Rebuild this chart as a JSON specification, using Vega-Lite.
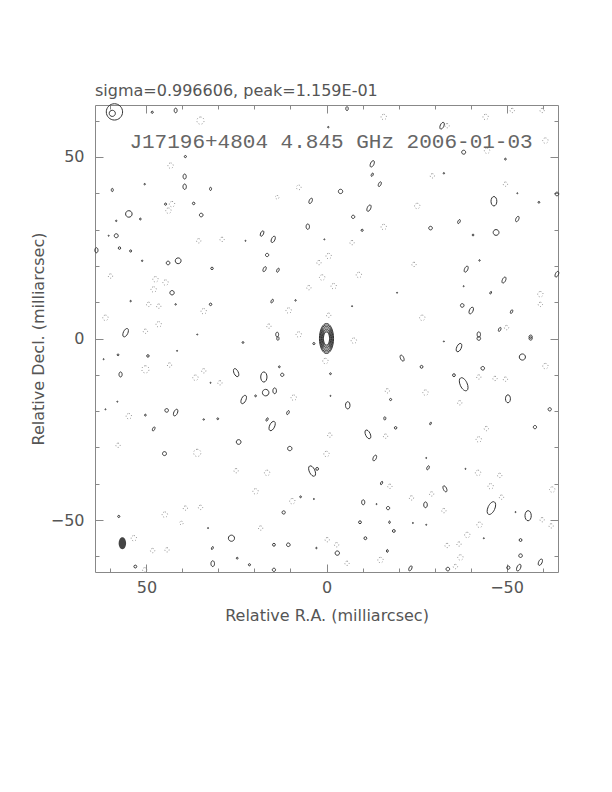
{
"$schema": "https://vega.github.io/schema/vega-lite/v6.json",
"width": 463, "height": 467,
"autosize": "none",
"padding": {"left": 95, "top": 105, "right": 54, "bottom": 220},
"background": "white",
"title": {"text": "sigma=0.996606, peak=1.159E-01", "anchor": "start", "frame": "group", "font": "DejaVu Sans", "fontSize": 16, "fontWeight": "normal", "color": "#555", "offset": 3},
"config": {
  "view": {"stroke": null},
  "axis": {"grid": false, "domainColor": "#888", "tickColor": "#888", "labelColor": "#555", "titleColor": "#555", "labelFont": "DejaVu Sans", "titleFont": "DejaVu Sans", "labelFontSize": 16, "titleFontSize": 16, "titleFontWeight": "normal", "labelOverlap": false, "labelFlush": false}
},
"data": {"values": [
{"x":0,"y":0,"w":8.3,"f":"c","k":"p"},{"x":0,"y":0,"w":7.5,"f":"c","k":"p"},{"x":0,"y":0,"w":6.7,"f":"c","k":"p"},{"x":0,"y":0,"w":5.9,"f":"c","k":"p"},{"x":0,"y":0,"w":5.1,"f":"c","k":"p"},{"x":0,"y":0,"w":4.3,"f":"c","k":"p"},{"x":0,"y":0,"w":3.6,"f":"c","k":"p"},
{"x":58.9,"y":62.4,"w":4.5,"f":"r","k":"p"},{"x":59.5,"y":62.0,"w":1.7,"f":"r","k":"p"},
{"x":48.4,"y":62.3,"w":0.6,"f":"r","k":"p"},{"x":41.9,"y":62.8,"w":1.3,"f":"v","k":"p"},{"x":39.2,"y":50.1,"w":0.6,"f":"r","k":"p"},
{"x":39.4,"y":44.6,"w":1.4,"f":"v","k":"p"},{"x":39.4,"y":41.8,"w":1.5,"f":"v","k":"p"},{"x":32.2,"y":41.2,"w":0.9,"f":"v","k":"p"},
{"x":59.5,"y":40.9,"w":0.9,"f":"v","k":"p"},{"x":50.5,"y":42.5,"w":0.4,"f":"r","k":"p"},{"x":44.7,"y":37.0,"w":0.6,"f":"r","k":"p"},
{"x":36.9,"y":37.2,"w":0.7,"f":"r","k":"p"},{"x":54.9,"y":34.3,"w":1.8,"f":"r","k":"p"},{"x":51.7,"y":32.9,"w":0.5,"f":"r","k":"p"},
{"x":34.8,"y":34.0,"w":1.0,"f":"r","k":"p"},{"x":58.4,"y":32.4,"w":0.4,"f":"r","k":"p"},{"x":58.4,"y":28.3,"w":1.1,"f":"r","k":"p"},
{"x":63.9,"y":24.3,"w":1.4,"f":"v","k":"p"},{"x":57.5,"y":24.9,"w":0.7,"f":"r","k":"p"},{"x":54.4,"y":24.1,"w":0.6,"f":"r","k":"p"},
{"x":44.0,"y":20.8,"w":1.0,"f":"r","k":"p"},{"x":41.2,"y":21.4,"w":1.6,"f":"r","k":"p"},{"x":31.8,"y":19.3,"w":0.7,"f":"r","k":"p"},
{"x":42.9,"y":12.6,"w":1.2,"f":"r","k":"p"},{"x":54.4,"y":10.3,"w":0.4,"f":"r","k":"p"},{"x":41.9,"y":9.4,"w":0.4,"f":"r","k":"p"},
{"x":32.2,"y":9.4,"w":0.7,"f":"r","k":"p"},{"x":55.8,"y":1.6,"w":2.5,"f":"t","k":"p"},{"x":51.2,"y":21.4,"w":0.4,"f":"r","k":"p"},
{"x":-5.7,"y":63.3,"w":1.1,"f":"v","k":"p"},{"x":-0.5,"y":58.2,"w":0.4,"f":"r","k":"p"},{"x":-12.7,"y":48.1,"w":1.9,"f":"t","k":"p"},
{"x":-12.7,"y":45.1,"w":1.0,"f":"t","k":"p"},{"x":-14.8,"y":42.5,"w":1.4,"f":"t","k":"p"},{"x":-3.9,"y":40.5,"w":1.2,"f":"r","k":"p"},
{"x":4.4,"y":37.9,"w":1.6,"f":"t","k":"p"},{"x":-11.8,"y":35.9,"w":1.9,"f":"t","k":"p"},{"x":-7.4,"y":33.5,"w":0.9,"f":"r","k":"p"},
{"x":5.2,"y":30.8,"w":1.5,"f":"v","k":"p"},{"x":-9.9,"y":29.8,"w":0.6,"f":"r","k":"p"},{"x":17.9,"y":28.9,"w":1.6,"f":"t","k":"p"},
{"x":14.8,"y":27.3,"w":1.9,"f":"t","k":"p"},{"x":0.6,"y":27.3,"w":0.3,"f":"r","k":"p"},{"x":16.5,"y":23.0,"w":0.9,"f":"r","k":"p"},
{"x":17.2,"y":19.1,"w":1.5,"f":"t","k":"p"},{"x":13.5,"y":18.8,"w":1.2,"f":"t","k":"p"},{"x":15.1,"y":10.3,"w":1.1,"f":"t","k":"p"},
{"x":8.6,"y":10.5,"w":0.4,"f":"r","k":"p"},{"x":13.7,"y":1.1,"w":1.3,"f":"v","k":"p"},
{"x":-32.1,"y":58.6,"w":2.0,"f":"t","k":"p"},{"x":-38.1,"y":51.3,"w":1.1,"f":"r","k":"p"},{"x":-49.7,"y":49.4,"w":0.5,"f":"r","k":"p"},
{"x":-32.6,"y":45.5,"w":0.4,"f":"r","k":"p"},{"x":-64.0,"y":39.8,"w":1.0,"f":"r","k":"p"},{"x":-46.5,"y":37.8,"w":2.6,"f":"v","k":"p"},
{"x":-59.0,"y":37.5,"w":0.5,"f":"r","k":"p"},{"x":-36.8,"y":32.2,"w":1.2,"f":"t","k":"p"},{"x":-53.0,"y":32.9,"w":1.6,"f":"t","k":"p"},
{"x":-28.9,"y":30.4,"w":1.0,"f":"r","k":"p"},{"x":-47.1,"y":29.2,"w":1.6,"f":"r","k":"p"},{"x":-40.7,"y":28.5,"w":0.5,"f":"r","k":"p"},
{"x":-42.5,"y":21.5,"w":0.4,"f":"r","k":"p"},{"x":-38.8,"y":19.1,"w":1.8,"f":"t","k":"p"},{"x":-64.0,"y":17.7,"w":1.7,"f":"t","k":"p"},
{"x":-49.3,"y":16.1,"w":1.8,"f":"t","k":"p"},{"x":-45.6,"y":12.6,"w":0.8,"f":"t","k":"p"},{"x":-37.7,"y":9.1,"w":1.0,"f":"r","k":"p"},
{"x":-40.2,"y":7.7,"w":2.0,"f":"t","k":"p"},{"x":-51.4,"y":7.4,"w":1.1,"f":"t","k":"p"},{"x":-48.1,"y":2.5,"w":1.2,"f":"t","k":"p"},
{"x":-42.3,"y":1.1,"w":1.5,"f":"v","k":"p"},{"x":-56.7,"y":0.5,"w":0.9,"f":"r","k":"p"},{"x":-38.1,"y":14.4,"w":0.3,"f":"r","k":"p"},
{"x":23.2,"y":-1.1,"w":0.5,"f":"r","k":"p"},{"x":57.9,"y":-4.5,"w":0.5,"f":"r","k":"p"},{"x":49.6,"y":-4.8,"w":0.7,"f":"r","k":"p"},
{"x":57.2,"y":-9.9,"w":1.4,"f":"v","k":"p"},{"x":25.1,"y":-9.4,"w":2.4,"f":"u","k":"p"},{"x":23.0,"y":-16.8,"w":2.5,"f":"t","k":"p"},
{"x":50.3,"y":-21.1,"w":0.5,"f":"r","k":"p"},{"x":44.4,"y":-19.8,"w":1.0,"f":"r","k":"p"},{"x":41.9,"y":-20.4,"w":2.0,"f":"t","k":"p"},
{"x":34.1,"y":-22.3,"w":0.4,"f":"r","k":"p"},{"x":30.2,"y":-22.1,"w":0.5,"f":"r","k":"p"},{"x":48.0,"y":-24.9,"w":1.2,"f":"t","k":"p"},
{"x":24.4,"y":-28.5,"w":1.3,"f":"r","k":"p"},{"x":45.0,"y":-31.7,"w":1.1,"f":"r","k":"p"},{"x":57.7,"y":-49.0,"w":0.6,"f":"r","k":"p"},
{"x":26.4,"y":-55.0,"w":1.7,"f":"r","k":"p"},{"x":31.7,"y":-57.7,"w":0.9,"f":"t","k":"p"},{"x":24.8,"y":-60.5,"w":0.5,"f":"r","k":"p"},
{"x":53.1,"y":-62.8,"w":0.8,"f":"r","k":"p"},{"x":31.6,"y":-62.0,"w":1.6,"f":"v","k":"p"},{"x":21.4,"y":-62.3,"w":0.6,"f":"r","k":"p"},
{"x":58.1,"y":-17.4,"w":0.3,"f":"r","k":"p"},{"x":32.9,"y":-52.2,"w":0.3,"f":"r","k":"p"},
{"x":13.5,"y":0.0,"w":1.0,"f":"v","k":"p"},{"x":3.5,"y":-1.4,"w":0.6,"f":"r","k":"p"},{"x":-21.0,"y":-5.4,"w":1.8,"f":"u","k":"p"},
{"x":13.1,"y":-7.8,"w":0.5,"f":"r","k":"p"},{"x":-1.1,"y":-9.7,"w":0.5,"f":"r","k":"p"},{"x":17.4,"y":-10.6,"w":2.8,"f":"v","k":"p"},
{"x":12.3,"y":-10.0,"w":0.9,"f":"r","k":"p"},{"x":16.9,"y":-14.9,"w":1.8,"f":"r","k":"p"},{"x":14.4,"y":-14.4,"w":1.6,"f":"v","k":"p"},
{"x":19.7,"y":-15.8,"w":0.5,"f":"r","k":"p"},{"x":-17.8,"y":-16.8,"w":0.6,"f":"r","k":"p"},{"x":-5.9,"y":-18.4,"w":2.0,"f":"v","k":"p"},
{"x":10.7,"y":-20.4,"w":1.2,"f":"t","k":"p"},{"x":-16.2,"y":-22.0,"w":0.9,"f":"v","k":"p"},{"x":-19.2,"y":-24.6,"w":0.7,"f":"r","k":"p"},
{"x":16.5,"y":-22.3,"w":1.0,"f":"t","k":"p"},{"x":15.1,"y":-24.1,"w":2.8,"f":"t","k":"p"},{"x":-11.5,"y":-26.4,"w":2.6,"f":"u","k":"p"},
{"x":10.2,"y":-30.3,"w":1.2,"f":"r","k":"p"},{"x":-13.4,"y":-32.9,"w":1.7,"f":"t","k":"p"},{"x":4.0,"y":-36.5,"w":3.1,"f":"u","k":"p"},
{"x":2.6,"y":-35.9,"w":0.8,"f":"r","k":"p"},{"x":-15.3,"y":-39.8,"w":1.0,"f":"t","k":"p"},{"x":7.2,"y":-43.6,"w":0.5,"f":"r","k":"p"},
{"x":-10.2,"y":-45.1,"w":1.4,"f":"v","k":"p"},{"x":11.9,"y":-47.9,"w":0.9,"f":"r","k":"p"},{"x":-17.1,"y":-46.7,"w":0.9,"f":"r","k":"p"},
{"x":-9.3,"y":-50.6,"w":0.8,"f":"r","k":"p"},{"x":-17.5,"y":-50.6,"w":0.7,"f":"v","k":"p"},{"x":-18.7,"y":-53.0,"w":0.8,"f":"r","k":"p"},
{"x":-10.8,"y":-55.0,"w":0.8,"f":"r","k":"p"},{"x":14.6,"y":-56.8,"w":0.8,"f":"r","k":"p"},{"x":10.6,"y":-56.8,"w":1.0,"f":"r","k":"p"},
{"x":2.8,"y":-57.7,"w":0.4,"f":"r","k":"p"},{"x":-3.0,"y":-59.1,"w":1.2,"f":"r","k":"p"},{"x":-16.9,"y":-58.5,"w":0.8,"f":"v","k":"p"},
{"x":14.6,"y":-63.7,"w":0.9,"f":"r","k":"p"},{"x":3.5,"y":-44.2,"w":0.3,"f":"r","k":"p"},{"x":-13.9,"y":-45.6,"w":0.3,"f":"r","k":"p"},
{"x":-1.1,"y":-15.8,"w":0.3,"f":"r","k":"p"},
{"x":-36.8,"y":-2.5,"w":2.5,"f":"t","k":"p"},{"x":-42.3,"y":0.0,"w":1.0,"f":"r","k":"p"},{"x":-56.7,"y":0.0,"w":0.9,"f":"r","k":"p"},
{"x":-54.4,"y":-5.1,"w":1.7,"f":"r","k":"p"},{"x":-26.4,"y":-7.8,"w":0.8,"f":"r","k":"p"},{"x":-43.4,"y":-8.2,"w":1.0,"f":"r","k":"p"},
{"x":-35.4,"y":-10.1,"w":0.8,"f":"r","k":"p"},{"x":-38.1,"y":-12.6,"w":3.9,"f":"u","k":"p"},{"x":-50.4,"y":-16.6,"w":2.2,"f":"v","k":"p"},
{"x":-62.0,"y":-19.5,"w":0.9,"f":"r","k":"p"},{"x":-28.9,"y":-23.4,"w":0.8,"f":"t","k":"p"},{"x":-57.9,"y":-24.4,"w":0.9,"f":"r","k":"p"},
{"x":-28.2,"y":-35.6,"w":1.2,"f":"t","k":"p"},{"x":-27.7,"y":-32.9,"w":0.3,"f":"r","k":"p"},{"x":-32.9,"y":-41.4,"w":1.8,"f":"u","k":"p"},
{"x":-27.5,"y":-45.8,"w":1.6,"f":"v","k":"p"},{"x":-45.8,"y":-46.7,"w":3.8,"f":"t","k":"p"},{"x":-56.0,"y":-48.8,"w":2.8,"f":"v","k":"p"},
{"x":-53.9,"y":-55.5,"w":0.8,"f":"r","k":"p"},{"x":-53.9,"y":-59.8,"w":1.0,"f":"r","k":"p"},{"x":-59.4,"y":-61.6,"w":1.9,"f":"t","k":"p"},
{"x":-23.3,"y":-63.3,"w":1.5,"f":"t","k":"p"},{"x":-33.7,"y":-63.5,"w":1.0,"f":"r","k":"p"},{"x":-50.5,"y":-63.1,"w":0.9,"f":"r","k":"p"},
{"x":-53.4,"y":-63.1,"w":2.0,"f":"t","k":"p"},{"x":-52.5,"y":-47.8,"w":0.3,"f":"r","k":"p"},{"x":-43.7,"y":-55.0,"w":0.3,"f":"r","k":"p"},
{"x":-24.0,"y":-50.8,"w":0.3,"f":"r","k":"p"},{"x":-27.7,"y":-51.3,"w":0.3,"f":"r","k":"p"},{"x":-38.6,"y":-35.9,"w":0.3,"f":"r","k":"p"},
{"x":-32.6,"y":-0.8,"w":0.3,"f":"r","k":"p"},{"x":-7.1,"y":8.9,"w":0.3,"f":"r","k":"p"},{"x":-19.6,"y":12.6,"w":0.3,"f":"r","k":"p"},
{"x":-53.0,"y":40.0,"w":0.3,"f":"r","k":"p"},{"x":35.9,"y":1.1,"w":0.3,"f":"r","k":"p"},{"x":22.5,"y":26.9,"w":0.3,"f":"r","k":"p"},
{"x":60.5,"y":28.3,"w":0.3,"f":"r","k":"p"},{"x":41.5,"y":-3.4,"w":0.3,"f":"r","k":"p"},{"x":61.9,"y":-5.7,"w":0.3,"f":"r","k":"p"},
{"x":32.2,"y":-12.2,"w":0.3,"f":"r","k":"p"},{"x":61.4,"y":-19.5,"w":0.3,"f":"r","k":"p"},
{"x":35.0,"y":60.0,"w":2.0,"f":"r","k":"n"},{"x":43.3,"y":47.6,"w":1.5,"f":"r","k":"n"},{"x":42.9,"y":37.0,"w":1.5,"f":"r","k":"n"},
{"x":43.9,"y":35.2,"w":1.5,"f":"r","k":"n"},{"x":35.5,"y":26.9,"w":1.2,"f":"r","k":"n"},{"x":29.0,"y":27.3,"w":1.2,"f":"r","k":"n"},
{"x":60.0,"y":17.2,"w":1.2,"f":"r","k":"n"},{"x":47.5,"y":16.3,"w":1.5,"f":"r","k":"n"},{"x":44.7,"y":15.4,"w":1.5,"f":"r","k":"n"},
{"x":48.0,"y":13.5,"w":1.5,"f":"r","k":"n"},{"x":49.4,"y":9.4,"w":1.2,"f":"r","k":"n"},{"x":46.6,"y":8.9,"w":1.2,"f":"r","k":"n"},
{"x":34.1,"y":7.5,"w":1.5,"f":"r","k":"n"},{"x":61.4,"y":5.7,"w":1.5,"f":"r","k":"n"},{"x":50.3,"y":2.0,"w":1.2,"f":"r","k":"n"},
{"x":46.6,"y":3.9,"w":1.5,"f":"r","k":"n"},
{"x":-15.9,"y":61.0,"w":1.5,"f":"r","k":"n"},{"x":7.7,"y":41.6,"w":1.3,"f":"r","k":"n"},{"x":13.7,"y":38.9,"w":1.0,"f":"r","k":"n"},
{"x":-15.9,"y":30.7,"w":1.5,"f":"r","k":"n"},{"x":-7.1,"y":26.4,"w":1.2,"f":"r","k":"n"},{"x":-0.6,"y":22.7,"w":1.5,"f":"r","k":"n"},
{"x":2.1,"y":20.9,"w":1.2,"f":"r","k":"n"},{"x":1.2,"y":16.8,"w":1.5,"f":"r","k":"n"},{"x":-9.0,"y":17.5,"w":1.5,"f":"r","k":"n"},
{"x":4.9,"y":14.0,"w":1.2,"f":"r","k":"n"},{"x":-2.0,"y":14.4,"w":1.5,"f":"r","k":"n"},{"x":10.5,"y":7.7,"w":1.5,"f":"r","k":"n"},
{"x":-0.6,"y":6.4,"w":1.2,"f":"r","k":"n"},{"x":16.0,"y":3.4,"w":1.2,"f":"r","k":"n"},{"x":7.7,"y":1.1,"w":1.5,"f":"r","k":"n"},
{"x":-33.5,"y":58.6,"w":1.2,"f":"r","k":"n"},{"x":-44.2,"y":61.0,"w":1.5,"f":"r","k":"n"},{"x":-44.6,"y":51.7,"w":1.5,"f":"r","k":"n"},
{"x":-60.8,"y":54.5,"w":1.5,"f":"r","k":"n"},{"x":-29.4,"y":44.8,"w":1.2,"f":"r","k":"n"},{"x":-49.7,"y":42.5,"w":1.2,"f":"r","k":"n"},
{"x":-25.2,"y":36.5,"w":1.5,"f":"r","k":"n"},{"x":-24.3,"y":20.4,"w":1.2,"f":"r","k":"n"},{"x":-59.4,"y":12.2,"w":1.5,"f":"r","k":"n"},
{"x":-26.6,"y":5.7,"w":1.5,"f":"r","k":"n"},{"x":-50.0,"y":3.0,"w":1.2,"f":"r","k":"n"},{"x":-59.4,"y":9.4,"w":1.2,"f":"r","k":"n"},
{"x":-51.6,"y":62.8,"w":1.2,"f":"r","k":"n"},{"x":-59.9,"y":62.8,"w":1.2,"f":"r","k":"n"},
{"x":54.9,"y":-21.4,"w":1.5,"f":"r","k":"n"},{"x":57.9,"y":-29.4,"w":1.2,"f":"r","k":"n"},{"x":50.3,"y":-8.5,"w":2.0,"f":"r","k":"n"},
{"x":43.6,"y":-7.3,"w":1.2,"f":"r","k":"n"},{"x":36.4,"y":-10.8,"w":1.5,"f":"r","k":"n"},{"x":34.1,"y":-8.9,"w":1.2,"f":"r","k":"n"},
{"x":29.6,"y":-12.2,"w":1.2,"f":"r","k":"n"},{"x":35.9,"y":-31.5,"w":2.0,"f":"r","k":"n"},{"x":25.1,"y":-36.4,"w":1.2,"f":"r","k":"n"},
{"x":44.9,"y":-48.5,"w":1.5,"f":"r","k":"n"},{"x":39.2,"y":-46.7,"w":1.2,"f":"r","k":"n"},{"x":35.0,"y":-46.5,"w":1.2,"f":"r","k":"n"},
{"x":40.3,"y":-50.8,"w":1.0,"f":"r","k":"n"},{"x":53.5,"y":-55.0,"w":1.5,"f":"r","k":"n"},{"x":48.3,"y":-58.4,"w":1.2,"f":"r","k":"n"},
{"x":44.3,"y":-58.2,"w":1.2,"f":"r","k":"n"},{"x":50.5,"y":-63.7,"w":1.2,"f":"r","k":"n"},
{"x":-7.6,"y":-0.6,"w":1.5,"f":"r","k":"n"},{"x":0.3,"y":-6.2,"w":1.5,"f":"r","k":"n"},{"x":9.1,"y":-16.3,"w":1.5,"f":"r","k":"n"},
{"x":-16.9,"y":-14.4,"w":1.2,"f":"r","k":"n"},{"x":-0.9,"y":-26.6,"w":1.2,"f":"r","k":"n"},{"x":-16.4,"y":-26.9,"w":1.2,"f":"r","k":"n"},
{"x":0.0,"y":-31.8,"w":1.5,"f":"r","k":"n"},{"x":16.5,"y":-37.0,"w":1.5,"f":"r","k":"n"},{"x":-17.6,"y":-40.7,"w":1.2,"f":"r","k":"n"},
{"x":19.7,"y":-42.1,"w":1.5,"f":"r","k":"n"},{"x":9.5,"y":-44.8,"w":1.5,"f":"r","k":"n"},{"x":18.3,"y":-52.2,"w":1.2,"f":"r","k":"n"},
{"x":-0.2,"y":-55.4,"w":1.2,"f":"r","k":"n"},{"x":-2.8,"y":-56.8,"w":1.2,"f":"r","k":"n"},{"x":-15.0,"y":-61.0,"w":1.5,"f":"r","k":"n"},
{"x":-5.7,"y":-61.9,"w":1.2,"f":"r","k":"n"},
{"x":-60.8,"y":-7.6,"w":1.5,"f":"r","k":"n"},{"x":-42.3,"y":-10.6,"w":1.2,"f":"r","k":"n"},{"x":-46.8,"y":-11.0,"w":1.2,"f":"r","k":"n"},
{"x":-49.7,"y":-11.2,"w":1.2,"f":"r","k":"n"},{"x":-27.5,"y":-14.9,"w":1.5,"f":"r","k":"n"},{"x":-37.0,"y":-17.7,"w":1.2,"f":"r","k":"n"},
{"x":-44.4,"y":-24.8,"w":1.2,"f":"r","k":"n"},{"x":-42.3,"y":-27.8,"w":1.5,"f":"r","k":"n"},{"x":-42.1,"y":-37.0,"w":1.5,"f":"r","k":"n"},
{"x":-48.1,"y":-37.7,"w":1.2,"f":"r","k":"n"},{"x":-45.6,"y":-40.7,"w":1.5,"f":"r","k":"n"},{"x":-62.7,"y":-41.6,"w":1.5,"f":"r","k":"n"},
{"x":-23.6,"y":-43.9,"w":1.2,"f":"r","k":"n"},{"x":-29.2,"y":-42.8,"w":1.2,"f":"r","k":"n"},{"x":-48.6,"y":-43.7,"w":1.2,"f":"r","k":"n"},
{"x":-32.6,"y":-47.4,"w":1.2,"f":"r","k":"n"},{"x":-59.9,"y":-49.9,"w":1.2,"f":"r","k":"n"},{"x":-62.4,"y":-51.6,"w":1.2,"f":"r","k":"n"},
{"x":-42.5,"y":-51.3,"w":1.5,"f":"r","k":"n"},{"x":-39.1,"y":-54.1,"w":1.5,"f":"r","k":"n"},{"x":-33.5,"y":-57.0,"w":1.2,"f":"r","k":"n"},
{"x":-36.8,"y":-56.6,"w":1.2,"f":"r","k":"n"},{"x":-37.2,"y":-60.3,"w":1.5,"f":"r","k":"n"},{"x":-35.8,"y":-62.8,"w":1.2,"f":"r","k":"n"},
{"x":56.7,"y":-56.4,"w":3.3,"f":"v","k":"b"}
]},
"layer": [
{
 "transform": [{"filter": "datum.k === 'p'"}],
 "mark": {"type": "point", "filled": false, "color": "#333", "strokeWidth": 1, "opacity": 1},
 "encoding": {
  "x": {"field": "x", "type": "quantitative", "scale": {"domain": [64.3, -64.3], "nice": false, "zero": false},
        "axis": {"orient": "bottom", "title": "Relative R.A. (milliarcsec)", "values": [-60,-50,-40,-30,-20,-10,0,10,20,30,40,50,60],
                 "tickSize": {"condition": {"test": "abs(datum.value) % 50 === 0", "value": -8}, "value": -4},
                 "labelExpr": "abs(datum.value) % 50 === 0 ? (datum.value < 0 ? '\u2212' + abs(datum.value) : '' + datum.value) : ''",
                 "labelPadding": 15, "titlePadding": 8}},
  "y": {"field": "y", "type": "quantitative", "scale": {"domain": [-64.3, 64.3], "nice": false, "zero": false},
        "axis": {"orient": "left", "title": "Relative Decl. (milliarcsec)", "values": [-60,-50,-40,-30,-20,-10,0,10,20,30,40,50,60],
                 "tickSize": {"condition": {"test": "abs(datum.value) % 50 === 0", "value": -8}, "value": -4},
                 "labelExpr": "abs(datum.value) % 50 === 0 ? (datum.value < 0 ? '\u2212' + abs(datum.value) : '' + datum.value) : ''",
                 "labelPadding": 19, "titlePadding": 4}},
  "shape": {"field": "f", "type": "nominal", "legend": null, "scale": {"domain": ["r","v","t","u","c"], "range": [
     "M0,-1C0.5523,-1,1,-0.5523,1,0C1,0.5523,0.5523,1,0,1C-0.5523,1,-1,0.5523,-1,0C-1,-0.5523,-0.5523,-1,0,-1Z",
     "M0,-1C0.3424,-1,0.62,-0.5523,0.62,0C0.62,0.5523,0.3424,1,0,1C-0.3424,1,-0.62,0.5523,-0.62,0C-0.62,-0.5523,-0.3424,-1,0,-1Z",
     "M0.4226,-0.9063C0.6729,-0.7896,0.6866,-0.2893,0.4532,0.2113C0.2198,0.7119,-0.1723,1.023,-0.4226,0.9063C-0.6729,0.7896,-0.6866,0.2893,-0.4532,-0.2113C-0.2198,-0.7119,0.1723,-1.023,0.4226,-0.9063Z",
     "M-0.4226,-0.9063C-0.6729,-0.7896,-0.6866,-0.2893,-0.4532,0.2113C-0.2198,0.7119,0.1723,1.023,0.4226,0.9063C0.6729,0.7896,0.6866,0.2893,0.4532,-0.2113C0.2198,-0.7119,-0.1723,-1.023,-0.4226,-0.9063Z",
     "M0,-1C0.2596,-1,0.47,-0.5523,0.47,0C0.47,0.5523,0.2596,1,0,1C-0.2596,1,-0.47,0.5523,-0.47,0C-0.47,-0.5523,-0.2596,-1,0,-1Z"]}},
  "size": {"field": "w", "type": "quantitative", "legend": null, "scale": {"type": "pow", "exponent": 2, "domain": [0, 10], "range": [0, 1310]}}
 }
},
{
 "transform": [{"filter": "datum.k === 'n'"}],
 "mark": {"type": "point", "filled": false, "color": "#999", "strokeWidth": 1, "strokeDash": [1, 2], "opacity": 1},
 "encoding": {
  "x": {"field": "x", "type": "quantitative", "scale": {"domain": [64.3, -64.3], "nice": false, "zero": false},
        "axis": {"orient": "top", "title": null, "labels": false, "values": [-60,-50,-40,-30,-20,-10,0,10,20,30,40,50,60],
                 "tickSize": {"condition": {"test": "abs(datum.value) % 50 === 0", "value": -8}, "value": -4}}},
  "y": {"field": "y", "type": "quantitative", "scale": {"domain": [-64.3, 64.3], "nice": false, "zero": false},
        "axis": {"orient": "right", "title": null, "labels": false, "values": [-60,-50,-40,-30,-20,-10,0,10,20,30,40,50,60],
                 "tickSize": {"condition": {"test": "abs(datum.value) % 50 === 0", "value": -8}, "value": -4}}},
  "shape": {"field": "f", "type": "nominal", "legend": null},
  "size": {"field": "w", "type": "quantitative", "legend": null}
 }
},
{
 "transform": [{"filter": "datum.k === 'b'"}],
 "mark": {"type": "point", "filled": true, "color": "#444", "opacity": 1},
 "encoding": {
  "x": {"field": "x", "type": "quantitative", "axis": null},
  "y": {"field": "y", "type": "quantitative", "axis": null},
  "shape": {"field": "f", "type": "nominal", "legend": null},
  "size": {"field": "w", "type": "quantitative", "legend": null}
 }
},
{
 "data": {"values": [{"label": "J17196+4804 4.845 GHz  2006-01-03", "x": -1.25, "y": 54.0}]},
 "mark": {"type": "text", "font": "Liberation Mono", "fontSize": 21, "color": "#666", "baseline": "middle", "align": "center"},
 "encoding": {
  "x": {"field": "x", "type": "quantitative", "axis": null},
  "y": {"field": "y", "type": "quantitative", "axis": null},
  "text": {"field": "label"}
 }
}
],
"resolve": {"axis": {"x": "independent", "y": "independent"}}
}
